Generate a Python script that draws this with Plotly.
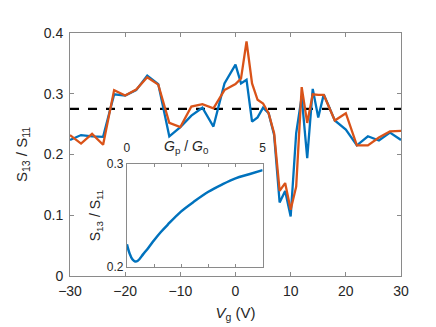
import plotly.graph_objects as go

# gate voltage sweep (V)
vg = [-30, -28, -26, -24, -22, -20, -18, -16, -14, -12, -10, -8, -6, -4, -2,
      0, 1, 2, 3, 4, 5, 6, 7, 8, 9, 10, 11, 12, 13, 14, 15, 16,
      18, 20, 22, 24, 26, 28, 30]

s_blue = [0.224, 0.232, 0.230, 0.229, 0.299, 0.297, 0.306, 0.330, 0.316, 0.230,
          0.245, 0.264, 0.277, 0.246, 0.317, 0.348, 0.317, 0.323, 0.254, 0.261,
          0.277, 0.268, 0.232, 0.121, 0.140, 0.098, 0.235, 0.295, 0.194, 0.308,
          0.261, 0.299, 0.256, 0.241, 0.215, 0.230, 0.223, 0.236, 0.224]

s_orange = [0.232, 0.218, 0.234, 0.216, 0.306, 0.297, 0.307, 0.327, 0.315, 0.252,
            0.245, 0.279, 0.283, 0.276, 0.306, 0.316, 0.325, 0.386, 0.317, 0.290,
            0.284, 0.268, 0.235, 0.140, 0.153, 0.109, 0.147, 0.311, 0.252, 0.299,
            0.298, 0.298, 0.256, 0.268, 0.215, 0.215, 0.228, 0.238, 0.239]

level = 0.275

# inset: S13/S11 vs Gp/G0
gp = [0, 0.1, 0.2, 0.3, 0.4, 0.6, 0.8, 1.0, 1.25, 1.5, 2.0, 2.5, 3.0, 3.5, 4.0, 4.5, 5.0]
s_inset = [0.222, 0.213, 0.2075, 0.2053, 0.206, 0.2125, 0.219, 0.226, 0.234, 0.241,
           0.254, 0.264, 0.273, 0.280, 0.286, 0.290, 0.294]

x_ticks = [-30, -20, -10, 0, 10, 20, 30]
y_ticks = [0, 0.1, 0.2, 0.3, 0.4]
y_labels = ["0", "0.1", "0.2", "0.3", "0.4"]
inset_x_ticks = [0, 1, 2, 3, 4, 5]
inset_x_labels = ["0", "", "", "", "", "5"]
inset_y_ticks = [0.2, 0.3]
inset_y_labels = ["0.2", "0.3"]

BLUE = "#0072BD"
ORANGE = "#D95319"
AX = "#8a8a8a"
TXT = "#262626"
FONT = "Liberation Sans, Arial, sans-serif"

fig = go.Figure()
fig.add_trace(go.Scatter(x=[vg[0], vg[-1]], y=[level, level], mode="lines",
                         line=dict(color="black", width=2.2, dash="dash"),
                         xaxis="x", yaxis="y"))
fig.add_trace(go.Scatter(x=vg, y=s_blue, mode="lines",
                         line=dict(color=BLUE, width=2.3), xaxis="x", yaxis="y"))
fig.add_trace(go.Scatter(x=vg, y=s_orange, mode="lines",
                         line=dict(color=ORANGE, width=2.3), xaxis="x", yaxis="y"))
fig.add_trace(go.Scatter(x=gp, y=s_inset, mode="lines", line_shape="spline",
                         line=dict(color=BLUE, width=2.5), xaxis="x2", yaxis="y2"))

axis_common = dict(showgrid=False, zeroline=False, showline=True, linecolor=AX,
                   linewidth=1, mirror="ticks", ticks="inside", tickcolor=AX,
                   tickwidth=1)

fig.update_layout(
    width=436, height=327,
    margin=dict(l=62, r=43, t=25, b=59),
    paper_bgcolor="white", plot_bgcolor="white",
    showlegend=False,
    font=dict(family=FONT, color=TXT),
    xaxis=dict(axis_common, range=[-30, 30], tickvals=x_ticks, ticklen=4,
               tickfont=dict(size=14), ticklabelstandoff=2,
               title=dict(text="<i>V</i><sub>g</sub> (V)", font=dict(size=15), standoff=9)),
    yaxis=dict(axis_common, range=[0, 0.4], tickvals=y_ticks, ticktext=y_labels,
               ticklen=4, tickfont=dict(size=14), ticklabelstandoff=3,
               title=dict(text="S<sub>13</sub> / S<sub>11</sub>", font=dict(size=15), standoff=12)),
    xaxis2=dict(axis_common, domain=[0.172, 0.582], anchor="y2", side="top",
                range=[0, 5], tickvals=inset_x_ticks, ticktext=inset_x_labels,
                ticklen=3, tickfont=dict(size=12), ticklabelstandoff=6),
    yaxis2=dict(axis_common, domain=[0.037, 0.461], anchor="x2",
                range=[0.2, 0.3], tickvals=inset_y_ticks, ticktext=inset_y_labels,
                ticklen=3, tickfont=dict(size=12),
                title=dict(text="S<sub>13</sub> / S<sub>11</sub>", font=dict(size=14), standoff=2)),
    annotations=[dict(text="<i>G</i><sub>p</sub> / <i>G</i><sub>0</sub>",
                      xref="x2", yref="y2", x=2.2, y=0.3, yanchor="bottom",
                      yshift=6, showarrow=False, font=dict(size=14, color=TXT))],
)

fig.write_html("out.html")
